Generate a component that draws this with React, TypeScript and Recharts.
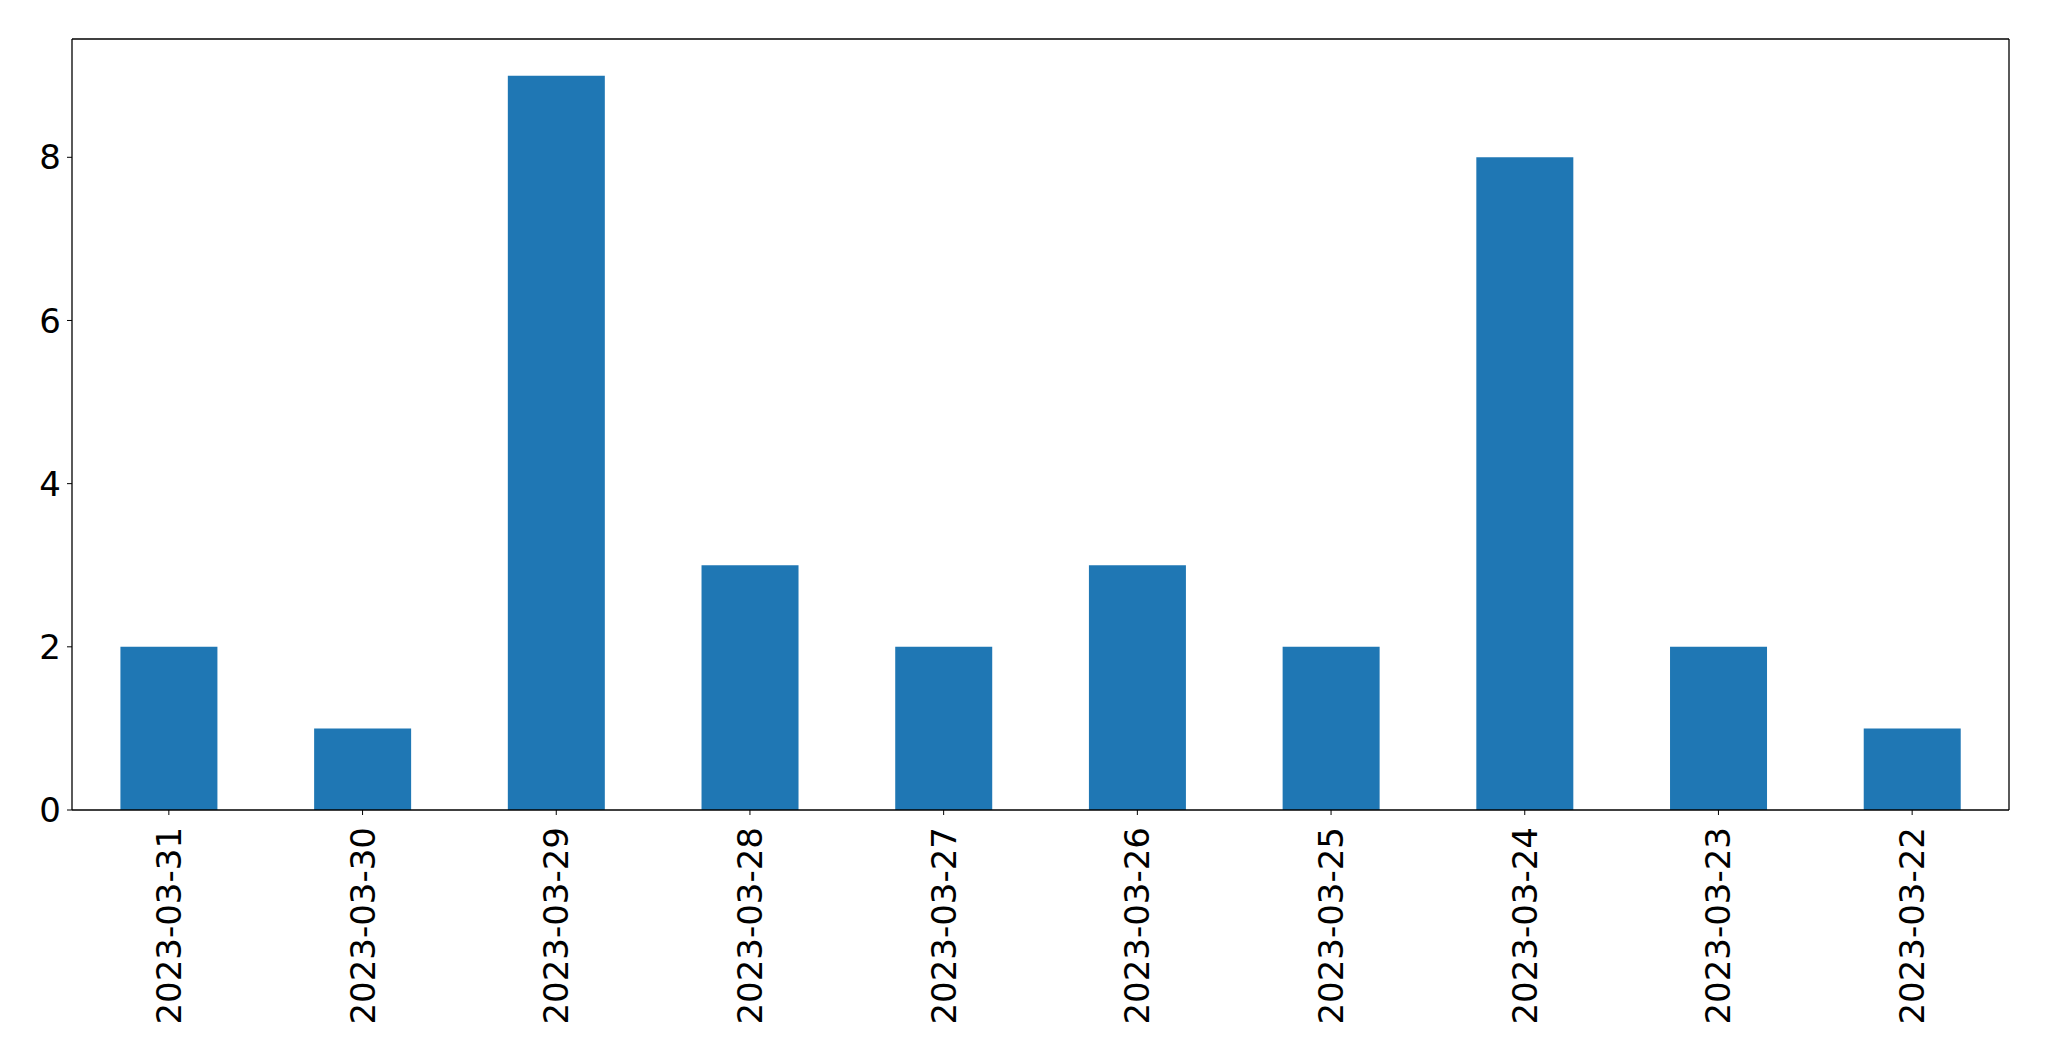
import { BarChart, Bar, XAxis, YAxis, CartesianGrid } from 'recharts';

const dates = [
  '2023-03-31', '2023-03-30', '2023-03-29', '2023-03-28', '2023-03-27',
  '2023-03-26', '2023-03-25', '2023-03-24', '2023-03-23', '2023-03-22',
];
const counts = [2, 1, 9, 3, 2, 3, 2, 8, 2, 1];
const yTicks = [0, 2, 4, 6, 8];

const data = dates.map((date, i) => ({ date, count: counts[i] }));

const FONT = '"DejaVu Sans", sans-serif';

const DateTick = (props: any) => {
  const { x, y, payload } = props;
  return (
    <text
      x={x}
      y={y}
      transform={`rotate(-90, ${x}, ${y})`}
      textAnchor="end"
      dominantBaseline="central"
      fontSize={34}
      fontFamily={FONT}
      fill="#000"
    >
      {payload.value}
    </text>
  );
};

export default function App() {
  return (
    <div style={{ position: 'absolute', left: 0, top: 0, background: '#fff' }}>
      <BarChart
        width={2049}
        height={1061}
        data={data}
        margin={{ top: 39, right: 40, left: 0, bottom: 0 }}
        barCategoryGap="25%"
      >
        {/* top and right frame lines */}
        <CartesianGrid
          stroke="#000"
          strokeWidth={1.3}
          horizontalCoordinatesGenerator={({ offset }: any) => [offset.top]}
          verticalCoordinatesGenerator={({ offset }: any) => [offset.left + offset.width]}
        />
        <XAxis
          dataKey="date"
          height={251}
          interval={0}
          tickSize={5}
          tickMargin={12}
          axisLine={{ stroke: '#000', strokeWidth: 1.3 }}
          tickLine={{ stroke: '#000' }}
          tick={<DateTick />}
        />
        <YAxis
          width={72}
          domain={[0, 9.45]}
          ticks={yTicks}
          tickSize={5}
          tickMargin={6}
          axisLine={{ stroke: '#000', strokeWidth: 1.3 }}
          tickLine={{ stroke: '#000' }}
          tick={{ fontSize: 34, fill: '#000', fontFamily: FONT }}
        />
        <Bar dataKey="count" fill="#1f77b4" isAnimationActive={false} />
      </BarChart>
    </div>
  );
}
